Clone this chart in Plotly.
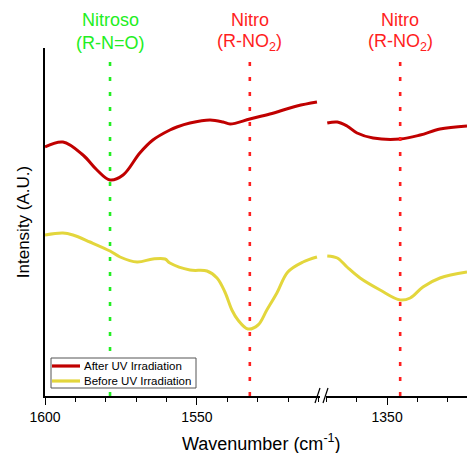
import plotly.graph_objects as go

# ---- data ----
after_left_wn = [1600.0, 1594.1, 1587.5, 1582.9, 1578.6, 1574.3, 1568.8, 1564.5, 1558.9, 1556.6,
                 1552.3, 1545.7, 1541.4, 1539.1, 1532.6, 1526.0, 1517.1, 1510.5]
after_left_int = [2.49, 2.54, 2.41, 2.26, 2.16, 2.21, 2.43, 2.56, 2.66, 2.69,
                  2.73, 2.76, 2.74, 2.72, 2.77, 2.82, 2.90, 2.94]
after_right_wn = [1369.7, 1366.4, 1363.2, 1359.9, 1354.6, 1345.7, 1339.1, 1332.6, 1323.7]
after_right_int = [2.73, 2.74, 2.70, 2.63, 2.58, 2.57, 2.61, 2.67, 2.70]

before_left_wn = [1600.0, 1594.1, 1590.8, 1585.2, 1578.6, 1575.3, 1569.7, 1564.5, 1560.5, 1558.9,
                  1552.3, 1546.7, 1543.4, 1540.8, 1538.5, 1536.5, 1533.2, 1529.9, 1527.0, 1523.7,
                  1520.1, 1515.1, 1510.5]
before_left_int = [1.61, 1.63, 1.61, 1.54, 1.45, 1.39, 1.34, 1.37, 1.37, 1.33,
                   1.26, 1.25, 1.18, 1.04, 0.86, 0.76, 0.67, 0.71, 0.86, 1.03,
                   1.24, 1.34, 1.39]
before_right_wn = [1369.7, 1366.4, 1363.2, 1358.9, 1352.3, 1345.7, 1342.4, 1338.2, 1332.6, 1323.7]
before_right_int = [1.40, 1.38, 1.29, 1.18, 1.06, 0.96, 0.98, 1.09, 1.18, 1.24]

series_names = ["After UV Irradiation", "Before UV Irradiation"]
series_colors = ["#C00000", "#E3D63C"]

marker_wn = [1578.6, 1532.6, 1345.7]
marker_axis = ["x", "x", "x2"]
marker_colors = ["#22EE22", "#FF1E1E", "#FF1E1E"]
marker_title = ["Nitroso", "Nitro", "Nitro"]
marker_formula = ["(R-N=O)", "(R-NO<sub>2</sub>)", "(R-NO<sub>2</sub>)"]

left_range = [1600, 1509.5]
right_range = [1370.1, 1323.7]
left_domain = [0.0, 0.6517]
right_domain = [0.666, 1.0]

FONT = "Liberation Sans, Arial, sans-serif"

fig = go.Figure()

sets = [
    (after_left_wn, after_left_int, after_right_wn, after_right_int),
    (before_left_wn, before_left_int, before_right_wn, before_right_int),
]
for i, (lx, ly, rx, ry) in enumerate(sets):
    fig.add_trace(go.Scatter(x=lx, y=ly, xaxis="x", yaxis="y", mode="lines",
                             line=dict(color=series_colors[i], width=3, shape="spline", smoothing=1.0),
                             name=series_names[i], legendgroup=series_names[i], showlegend=False))
    fig.add_trace(go.Scatter(x=rx, y=ry, xaxis="x2", yaxis="y", mode="lines",
                             line=dict(color=series_colors[i], width=3, shape="spline", smoothing=1.0),
                             name=series_names[i], legendgroup=series_names[i], showlegend=False))

shapes = []
annotations = []
for wn, ax, col, t1, t2 in zip(marker_wn, marker_axis, marker_colors, marker_title, marker_formula):
    shapes.append(dict(type="line", xref=ax, yref="paper", x0=wn, x1=wn, y0=0, y1=0.98,
                       line=dict(color=col, width=2.6, dash="4px,11px")))
    annotations.append(dict(xref=ax, yref="paper", x=wn, y=1.08, text=t1, showarrow=False,
                            font=dict(family=FONT, size=18, color=col), xanchor="center", yanchor="middle"))
    annotations.append(dict(xref=ax, yref="paper", x=wn, y=1.015, text=t2, showarrow=False,
                            font=dict(family=FONT, size=18, color=col), xanchor="center", yanchor="middle"))

# break marks "//"
W, H = 422.0, 348.0
def px_x(p):
    return (p - 45) / W
def px_y(p):
    return (396 - p) / H

for px0 in [315, 323]:
    shapes.append(dict(type="line", xref="paper", yref="paper",
                       x0=px_x(px0), y0=px_y(403), x1=px_x(px0 + 5), y1=px_y(388),
                       line=dict(color="black", width=1.2)))

# legend box (drawn as shapes + text, like the reference's compact legend)
shapes.append(dict(type="rect", xref="paper", yref="paper",
                   x0=px_x(51), x1=px_x(196), y0=px_y(388), y1=px_y(358),
                   fillcolor="white", line=dict(color="#555555", width=1), layer="above"))
for k, (nm, col) in enumerate(zip(series_names, series_colors)):
    yy = 366 + 15 * k
    shapes.append(dict(type="line", xref="paper", yref="paper",
                       x0=px_x(52), x1=px_x(80), y0=px_y(yy), y1=px_y(yy),
                       line=dict(color=col, width=3.2)))
    annotations.append(dict(xref="paper", yref="paper", x=px_x(82), y=px_y(yy), text=nm,
                            showarrow=False, xanchor="left", yanchor="middle",
                            font=dict(family=FONT, size=11.5, color="black")))

annotations.append(dict(xref="paper", yref="paper", x=0.514, y=-0.135,
                        text="Wavenumber (cm<sup>-1</sup>)", showarrow=False,
                        font=dict(family=FONT, size=18, color="black"), xanchor="center", yanchor="middle"))

xcommon = dict(showline=True, linecolor="black", linewidth=1.5, ticks="outside", ticklen=7,
               tickwidth=1.2, tickcolor="black", dtick=50, showgrid=False, zeroline=False,
               automargin=False,
               tickfont=dict(family=FONT, size=14, color="black"),
               minor=dict(dtick=10, ticks="outside", ticklen=4, tickcolor="black", tickwidth=1.2,
                          showgrid=False))

fig.update_layout(
    width=467, height=453,
    margin=dict(l=45, r=0, t=48, b=57),
    paper_bgcolor="white", plot_bgcolor="white",
    font=dict(family=FONT, color="black"),
    xaxis=dict(range=left_range, domain=left_domain, anchor="y", **xcommon),
    xaxis2=dict(range=right_range, domain=right_domain, anchor="y", **xcommon),
    yaxis=dict(range=[0, 3.48], showline=True, linecolor="black", linewidth=1.5,
               showticklabels=False, ticks="", showgrid=False, zeroline=False, automargin=False,
               title=dict(text="Intensity (A.U.)", standoff=9,
                          font=dict(family=FONT, size=17, color="black"))),
    shapes=shapes, annotations=annotations,
    showlegend=False,
)

fig.write_html("out.html", config={"displayModeBar": False},
               post_script="document.body.style.margin='0';document.body.style.overflow='hidden';")
